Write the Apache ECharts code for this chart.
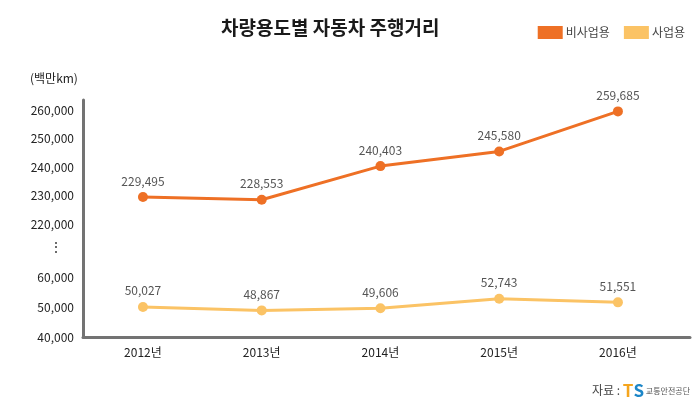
<!DOCTYPE html>
<html><head><meta charset="utf-8">
<script src="https://cdn.jsdelivr.net/npm/echarts@6/dist/echarts.min.js"></script>
<style>html,body{margin:0;padding:0;background:#fff}#c{width:700px;height:407px}</style>
</head><body><div id="c"></div>
<script>
const categories = ['2012년','2013년','2014년','2015년','2016년'];
const nonCommercial = [229495, 228553, 240403, 245580, 259685]; // 비사업용
const commercial = [50027, 48867, 49606, 52743, 51551];         // 사업용
const upperTicks = [220000, 230000, 240000, 250000, 260000];
const lowerTicks = [40000, 50000, 60000];
const seriesNames = ['비사업용', '사업용'];

const FONT = 'Noto Sans CJK KR';
const ORANGE = '#EE7025';
const YELLOW = '#FBC365';
const AXIS = '#737373';
const fmt = v => v.toLocaleString('en-US');

const chart = echarts.init(document.getElementById('c'), null, {renderer: 'canvas'});
const xBase = {type: 'value', min: -0.505, max: 4.607, splitLine: {show: false}};
const yBase = {
  type: 'value', splitLine: {show: false}, axisTick: {show: false},
  axisLine: {show: true, onZero: false, lineStyle: {color: AXIS, width: 3}},
  axisLabel: {color: '#222', fontSize: 12, fontFamily: FONT, margin: 9, formatter: fmt}
};
chart.setOption({
  animation: false,
  textStyle: {fontFamily: FONT},
  title: {text: '차량용도별 자동차 주행거리', left: 216, top: 13,
    textStyle: {fontSize: 19, fontWeight: 'bold', color: '#1a1a1a', fontFamily: FONT}},
  legend: {right: 10, top: 21, itemWidth: 25, itemHeight: 13, itemGap: 14, icon: 'rect',
    data: seriesNames, textStyle: {fontSize: 12, color: '#444', fontFamily: FONT, padding: [0,0,0,-2]}},
  grid: [
    {left: 83, right: 10, top: 100, height: 124},
    {left: 83, right: 10, top: 224, height: 113}
  ],
  xAxis: [
    Object.assign({}, xBase, {gridIndex: 0, show: false}),
    Object.assign({}, xBase, {gridIndex: 1,
      axisLine: {show: true, onZero: false, lineStyle: {color: AXIS, width: 3}},
      axisTick: {show: false},
      axisLabel: {customValues: [0,1,2,3,4], formatter: v => categories[Math.round(v)],
        color: '#222', fontSize: 12, fontFamily: FONT, margin: 9}})
  ],
  yAxis: [
    Object.assign({}, yBase, {gridIndex: 0, min: 220000, max: 263700,
      axisLabel: Object.assign({}, yBase.axisLabel, {customValues: upperTicks, padding: [0,0,7,0]})}),
    Object.assign({}, yBase, {gridIndex: 1, min: 40000, max: 77667,
      axisLabel: Object.assign({}, yBase.axisLabel, {customValues: lowerTicks})})
  ],
  graphic: [
    {type: 'text', left: 30, top: 72, style: {text: '(백만km)', fontSize: 12, fill: '#222', fontFamily: FONT}},
    {type: 'text', left: 49, top: 240, style: {text: '⋮', fontSize: 14, fill: '#333', fontFamily: FONT}},
    {type: 'text', right: 10, top: 382, style: {
      text: '{a|자료 : }{t|T}{s|S}{b| 교통안전공단}',
      rich: {
        a: {fontSize: 12, fill: '#444', fontFamily: FONT},
        t: {fontSize: 17, fontWeight: 'bold', fill: '#F5A51E', fontFamily: FONT},
        s: {fontSize: 17, fontWeight: 'bold', fill: '#1C86C8', fontFamily: FONT},
        b: {fontSize: 8, fill: '#555', fontFamily: FONT}
      }}}
  ],
  series: [
    {name: seriesNames[0], type: 'line', xAxisIndex: 0, yAxisIndex: 0,
      data: nonCommercial.map((v, i) => [i, v]),
      symbol: 'circle', symbolSize: 10, color: ORANGE,
      lineStyle: {width: 3, color: ORANGE}, itemStyle: {color: ORANGE},
      label: {show: true, position: 'top', distance: 5, fontSize: 12, color: '#555', fontFamily: FONT,
        formatter: p => fmt(p.value[1])}},
    {name: seriesNames[1], type: 'line', xAxisIndex: 1, yAxisIndex: 1,
      data: commercial.map((v, i) => [i, v]),
      symbol: 'circle', symbolSize: 10, color: YELLOW,
      lineStyle: {width: 3, color: YELLOW}, itemStyle: {color: YELLOW},
      label: {show: true, position: 'top', distance: 5, fontSize: 12, color: '#555', fontFamily: FONT,
        formatter: p => fmt(p.value[1])}}
  ]
});
</script></body></html>
